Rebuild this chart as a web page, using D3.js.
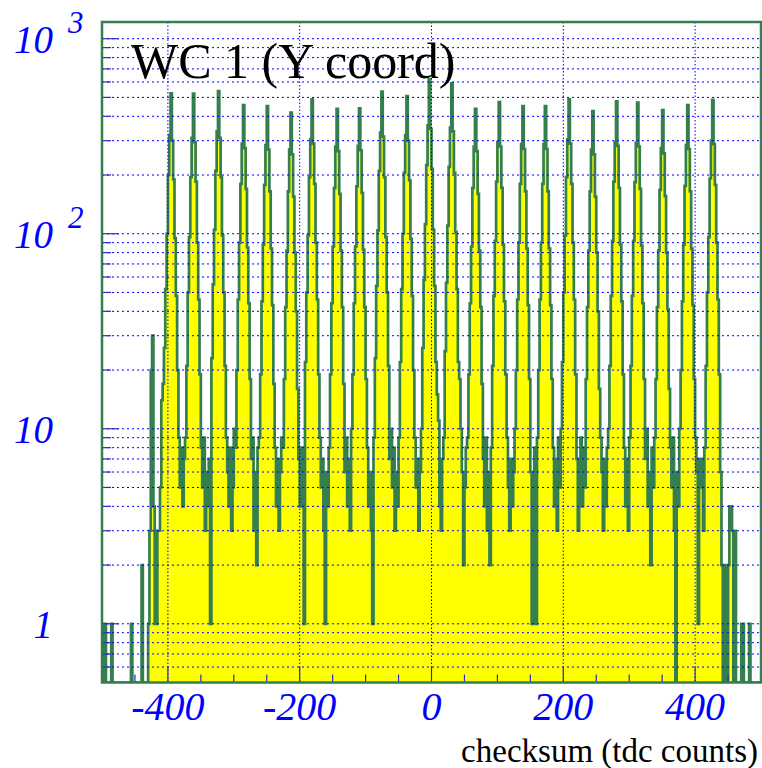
<!DOCTYPE html>
<html>
<head>
<meta charset="utf-8">
<script src="https://cdnjs.cloudflare.com/ajax/libs/d3/7.8.5/d3.min.js"></script>
<style>
	body { margin: 0; background: #fff; }
	text { font-family: "Liberation Serif", "Times New Roman", serif; }
</style>
</head>
<body>
<svg id="graph"></svg>
<script>

	var graphWidth = 762;
	var graphHeight = 768;

	var plotLeft = 102, plotRight = 761, plotTop = 22, plotBottom = 682.5;

	/* histogram: 500 bins of 2 tdc counts from -500 to 500 */
	var binLow = -500;
	var binHigh = 500;
	var binWidth = 2;

	var counts = [
		0, 1, 1, 0, 0, 0, 0, 1, 0, 0,
		0, 0, 0, 0, 0, 0, 0, 0, 0, 0,
		0, 0, 1, 0, 0, 0, 0, 0, 0, 0,
		2, 0, 0, 0, 0, 1, 3, 20, 30, 4,
		1, 1, 3, 3, 5, 14, 17, 26, 52, 100,
		200, 320, 524, 300, 190, 95, 48, 20, 9, 5,
		8, 4, 7, 9, 21, 50, 96, 195, 310, 523,
		295, 185, 90, 46, 19, 8, 5, 9, 3, 6,
		4, 7, 1, 23, 55, 105, 210, 335, 539, 310,
		195, 98, 50, 21, 9, 6, 4, 8, 3, 5,
		10, 8, 20, 46, 90, 180, 290, 456, 275, 170,
		85, 44, 18, 7, 9, 3, 6, 2, 8, 9,
		19, 45, 88, 178, 285, 451, 270, 165, 84, 43,
		17, 8, 4, 7, 3, 6, 9, 8, 18, 42,
		82, 165, 270, 418, 255, 155, 80, 40, 16, 7,
		4, 8, 5, 1, 22, 50, 98, 195, 305, 488,
		290, 180, 90, 46, 19, 9, 5, 7, 3, 1,
		6, 4, 8, 19, 44, 86, 172, 280, 437, 265,
		160, 82, 42, 17, 6, 9, 4, 7, 3, 10,
		19, 44, 86, 175, 282, 440, 268, 162, 83, 42,
		18, 8, 4, 6, 3, 1, 9, 23, 54, 104,
		210, 330, 535, 315, 195, 96, 50, 21, 7, 10,
		5, 8, 3, 6, 4, 9, 22, 52, 100, 205,
		320, 508, 300, 188, 94, 48, 20, 9, 5, 7,
		3, 6, 10, 26, 58, 112, 225, 360, 618, 345,
		215, 105, 54, 22, 15, 11, 4, 3, 7, 9,
		25, 56, 110, 220, 350, 590, 335, 205, 102, 52,
		22, 18, 10, 6, 2, 5, 8, 9, 19, 44,
		86, 172, 280, 437, 265, 160, 82, 42, 17, 7,
		4, 9, 3, 6, 2, 8, 21, 48, 92, 185,
		295, 473, 280, 172, 88, 45, 19, 9, 5, 3,
		7, 4, 6, 10, 20, 46, 90, 180, 288, 451,
		272, 165, 84, 43, 18, 6, 1, 5, 8, 1,
		9, 20, 46, 90, 180, 288, 451, 272, 165, 84,
		43, 18, 8, 4, 7, 3, 9, 5, 10, 22,
		50, 98, 195, 305, 488, 290, 180, 90, 46, 19,
		7, 3, 6, 9, 4, 8, 5, 18, 42, 82,
		165, 270, 425, 255, 155, 80, 40, 16, 9, 6,
		3, 7, 4, 8, 10, 21, 48, 92, 185, 295,
		477, 282, 172, 88, 45, 19, 8, 4, 7, 3,
		9, 21, 48, 92, 184, 292, 470, 280, 170, 87,
		44, 18, 7, 10, 4, 6, 2, 8, 5, 9,
		18, 42, 82, 168, 275, 430, 258, 156, 80, 41,
		16, 8, 5, 9, 3, 0, 6, 4, 10, 20,
		45, 88, 176, 285, 456, 272, 165, 84, 43, 18,
		9, 6, 1, 7, 5, 7, 3, 8, 21, 50,
		96, 192, 300, 486, 288, 178, 90, 46, 19, 6,
		2, 0, 2, 2, 0, 2, 4, 4, 3, 0,
		3, 0, 0, 0, 0, 1, 1, 0, 0, 0,
		0, 1, 0, 0, 0, 0, 0, 0, 0, 0
	];

	var xMajorTicks = [-400, -200, 0, 200, 400];
	var xTickLabels = ["-400", "-200", "0", "200", "400"];
	var yDomain = [0.5, 1218];
	var yLabelValues = [1, 10, 100, 1000];
	var yLabelBase = ["1", "10", "10", "10"];
	var yLabelExp = ["", "", "2", "3"];

	var titleText = "WC 1 (Y coord)";
	var xAxisTitle = "checksum (tdc counts)";

	var lineGreen = "#357e4d";
	var gridBlue = "#0000ff";

	var graph = d3.select('#graph')
								.attr("width", graphWidth)
								.attr("height", graphHeight);

	var x = d3.scaleLinear()
						.domain([binLow, binHigh])
						.range([plotLeft, plotRight]);

	var y = d3.scaleLog()
						.domain(yDomain)
						.range([plotBottom, plotTop]);

	graph.append("defs").append("clipPath")
				.attr("id", "plotClip")
				.append("rect")
				.attr("x", plotLeft)
				.attr("y", plotTop)
				.attr("width", plotRight - plotLeft)
				.attr("height", plotBottom - plotTop);

	/* step outline, empty bins drop to the bottom of the frame */
	var pts = [[x(binLow), plotBottom]];
	counts.forEach(function(c, i) {
		var yv = c > 0 ? y(c) : plotBottom;
		pts.push([x(binLow + i * binWidth), yv]);
		pts.push([x(binLow + (i + 1) * binWidth), yv]);
	});
	pts.push([x(binHigh), plotBottom]);

	var histLine = d3.line();

	var histGroup = graph.append("g").attr("clip-path", "url(#plotClip)");

	histGroup.append("path")
					.attr("d", histLine(pts) + "Z")
					.attr("fill", "#ffff00")
					.attr("stroke", "none");

	histGroup.append("path")
					.attr("d", histLine(pts))
					.attr("fill", "none")
					.attr("stroke", lineGreen)
					.attr("stroke-width", 2.7)
					.attr("stroke-linejoin", "miter");

	/* grid on top of the histogram, like root draws it */
	var yGrid = y.ticks().filter(function(d) { return d > yDomain[0] && d < yDomain[1]; });

	graph.append("g").selectAll("line")
				.data(yGrid)
				.enter().append("line")
				.attr("x1", plotLeft)
				.attr("x2", plotRight)
				.attr("y1", function(d) { return y(d); })
				.attr("y2", function(d) { return y(d); })
				.attr("stroke", gridBlue)
				.attr("stroke-width", 1)
				.attr("stroke-dasharray", "2,3");

	graph.append("g").selectAll("line")
				.data(xMajorTicks)
				.enter().append("line")
				.attr("x1", function(d) { return x(d); })
				.attr("x2", function(d) { return x(d); })
				.attr("y1", plotTop)
				.attr("y2", plotBottom)
				.attr("stroke", gridBlue)
				.attr("stroke-width", 1)
				.attr("stroke-dasharray", "1.5,2");

	/* ticks */
	var xMinor = d3.range(binLow + 50, binHigh, 50).filter(function(d) { return xMajorTicks.indexOf(d) < 0; });

	graph.append("g").selectAll("line")
				.data(xMajorTicks.map(function(d) { return {v: d, len: 16}; })
								.concat(xMinor.map(function(d) { return {v: d, len: 8}; })))
				.enter().append("line")
				.attr("x1", function(d) { return x(d.v); })
				.attr("x2", function(d) { return x(d.v); })
				.attr("y1", plotBottom)
				.attr("y2", function(d) { return plotBottom - d.len; })
				.attr("stroke", "#2a2ad0")
				.attr("stroke-width", 1.2);

	graph.append("g").selectAll("line")
				.data(yGrid)
				.enter().append("line")
				.attr("x1", plotLeft)
				.attr("x2", function(d) { return plotLeft + (yLabelValues.indexOf(d) >= 0 ? 17 : 9); })
				.attr("y1", function(d) { return y(d); })
				.attr("y2", function(d) { return y(d); })
				.attr("stroke", "#2a2ad0")
				.attr("stroke-width", 1.2);

	/* frame */
	graph.append("rect")
				.attr("x", plotLeft)
				.attr("y", plotTop)
				.attr("width", plotRight - plotLeft)
				.attr("height", plotBottom - plotTop)
				.attr("fill", "none")
				.attr("stroke", lineGreen)
				.attr("stroke-width", 2.5);

	/* labels */
	graph.append("g").selectAll("text")
				.data(xMajorTicks)
				.enter().append("text")
				.attr("x", function(d) { return x(d); })
				.attr("y", 719.5)
				.attr("text-anchor", "middle")
				.attr("font-style", "italic")
				.attr("font-size", 40)
				.attr("fill", "#0000ff")
				.text(function(d, i) { return xTickLabels[i]; });

	var yLab = graph.append("g").selectAll("g")
				.data(yLabelValues)
				.enter().append("g");

	yLab.append("text")
			.attr("x", 53)
			.attr("y", function(d) { return y(d) + 14; })
			.attr("text-anchor", "end")
			.attr("font-style", "italic")
			.attr("font-size", 39)
			.attr("fill", "#0000ff")
			.text(function(d, i) { return yLabelBase[i]; });

	yLab.append("text")
			.attr("x", 68)
			.attr("y", function(d) { return y(d) - 6; })
			.attr("font-style", "italic")
			.attr("font-size", 31)
			.attr("fill", "#0000ff")
			.text(function(d, i) { return yLabelExp[i]; });

	graph.append("text")
				.attr("x", 131)
				.attr("y", 78)
				.attr("font-size", 50)
				.attr("fill", "#000")
				.text(titleText);

	graph.append("text")
				.attr("x", 758)
				.attr("y", 761.5)
				.attr("text-anchor", "end")
				.attr("font-size", 33)
				.attr("fill", "#000")
				.text(xAxisTitle);

</script>
</body>
</html>
